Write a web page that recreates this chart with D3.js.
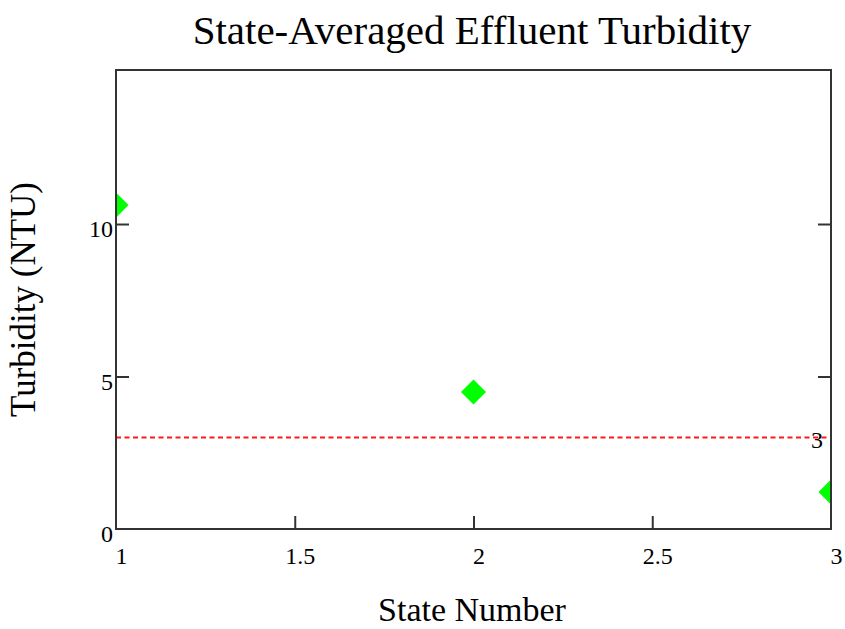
<!DOCTYPE html>
<html><head><meta charset="utf-8">
<script src="https://cdn.jsdelivr.net/npm/d3@7"></script>
<style>body{margin:0;background:#fff}svg{display:block}</style>
</head><body>
<script>
const states = [1, 2, 3];
const turbidity = [10.62, 4.49, 1.21];
const xTicks = [1, 1.5, 2, 2.5, 3];
const yTicks = [0, 5, 10];
const limitValue = 3;
const title = "State-Averaged Effluent Turbidity";
const xLabel = "State Number";
const yLabel = "Turbidity (NTU)";

const W = 845, H = 629;
const m = {left: 116, right: 14, top: 70, bottom: 100};
const svg = d3.select("body").append("svg").attr("width", W).attr("height", H);
const x = d3.scaleLinear().domain([1, 3]).range([m.left, W - m.right]);
const y = d3.scaleLinear().domain([0, 15.05]).range([H - m.bottom, m.top]);
const font = "'Liberation Serif','Times New Roman',serif";

svg.append("defs").append("clipPath").attr("id", "clip").append("rect")
  .attr("x", m.left).attr("y", m.top)
  .attr("width", W - m.right - m.left).attr("height", H - m.bottom - m.top);

// limit line
svg.append("line")
  .attr("x1", x(1)).attr("x2", x(3))
  .attr("y1", y(limitValue)).attr("y2", y(limitValue))
  .attr("stroke", "#ff1a1a").attr("stroke-width", 2).attr("stroke-dasharray", "5,3.5");

// points
svg.append("g").attr("clip-path", "url(#clip)")
  .selectAll("path").data(states).join("path")
  .attr("d", d3.symbol().type(d3.symbolDiamond2).size(400))
  .attr("transform", (d, i) => `translate(${x(d)},${y(turbidity[i])})`)
  .attr("fill", "#00ff00");

// frame
svg.append("rect").attr("x", m.left).attr("y", m.top)
  .attr("width", W - m.right - m.left).attr("height", H - m.bottom - m.top)
  .attr("fill", "none").attr("stroke", "#333").attr("stroke-width", 2);

// axes
const xAxis = svg.append("g").attr("transform", `translate(0,${H - m.bottom})`)
  .call(d3.axisBottom(x).tickValues(xTicks).tickSizeInner(-13).tickSizeOuter(0).tickPadding(18).tickFormat(d3.format("")));
const yAxis = svg.append("g").attr("transform", `translate(${m.left},0)`)
  .call(d3.axisLeft(y).tickValues(yTicks).tickSizeInner(-13).tickSizeOuter(0).tickPadding(3).tickFormat(d3.format("")));
const yAxisR = svg.append("g").attr("transform", `translate(${W - m.right},0)`)
  .call(d3.axisRight(y).tickValues(yTicks.filter(d => d > 0)).tickSizeInner(-13).tickSizeOuter(0).tickFormat(""));
[xAxis, yAxis, yAxisR].forEach(g => {
  g.select(".domain").remove();
  g.selectAll(".tick line").attr("stroke", "#333").attr("stroke-width", 2);
  g.selectAll("text").attr("font-family", font).attr("font-size", 24).attr("fill", "#000");
});
xAxis.selectAll(".tick line").filter(d => d === 1 || d === 3).remove();
xAxis.selectAll("text").attr("dx", 5).attr("dy", "0.71em");
yAxis.selectAll(".tick line").filter(d => d === 0).remove();
yAxis.selectAll("text").attr("dy", "0.54em");

// limit label
svg.append("text").attr("x", x(3) - 8).attr("y", y(limitValue) + 10)
  .attr("text-anchor", "end").attr("font-family", font).attr("font-size", 24)
  .text(limitValue);

// title & labels
svg.append("text").attr("x", 472).attr("y", 44).attr("text-anchor", "middle")
  .attr("font-family", font).attr("font-size", 41).text(title);
svg.append("text").attr("x", 472).attr("y", 621).attr("text-anchor", "middle")
  .attr("font-family", font).attr("font-size", 34).text(xLabel);
svg.append("text").attr("transform", `translate(35,${(m.top + H - m.bottom) / 2}) rotate(-90)`)
  .attr("text-anchor", "middle").attr("font-family", font).attr("font-size", 35).text(yLabel);
</script>
</body></html>
